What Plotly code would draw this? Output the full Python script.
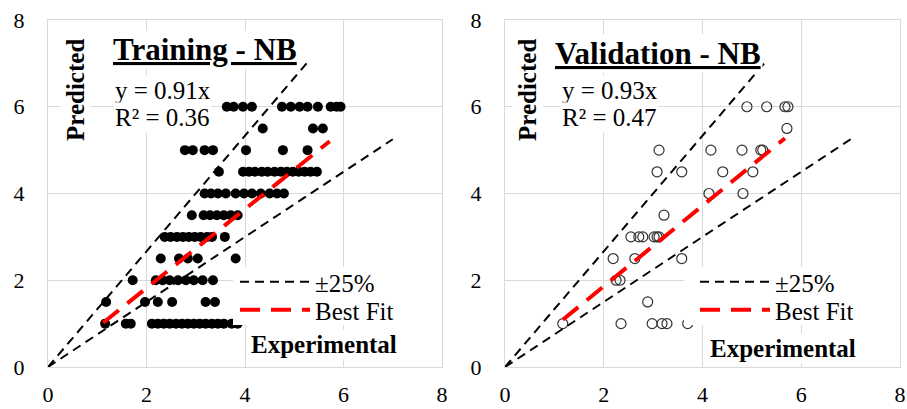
import plotly.graph_objects as go
from plotly.subplots import make_subplots

# ---------------- data ----------------
train_x = [
    1.16, 1.58, 1.68, 2.11, 2.23, 2.35, 2.47, 2.60, 2.72, 2.84, 2.96, 3.08, 3.20, 3.33, 3.45, 3.57, 3.73, 3.85,
    1.18, 1.97, 2.23, 2.52, 3.20, 3.39,
    1.72, 2.19, 2.33, 2.47, 2.64, 2.80, 2.96, 3.14, 3.35,
    2.29, 2.66, 2.84, 3.04, 3.81,
    2.37, 2.49, 2.62, 2.74, 2.86, 2.98, 3.10, 3.23, 3.33, 3.59,
    2.92, 3.16, 3.29, 3.43, 3.57, 3.71, 3.85,
    3.18, 3.31, 3.45, 3.61, 3.81, 3.98, 4.14, 4.32, 4.50, 4.65, 4.79,
    3.47, 3.96, 4.08, 4.20, 4.34, 4.46, 4.60, 4.73, 4.85, 4.97, 5.09, 5.21, 5.33, 5.46,
    2.78, 2.94, 3.18, 3.35, 4.02, 4.77, 5.27,
    4.36, 5.38, 5.58,
    3.63, 3.77, 3.96, 4.14, 4.75, 4.93, 5.11, 5.27, 5.48, 5.74, 5.86, 5.94,
]
train_y = [
    1, 1, 1, 1, 1, 1, 1, 1, 1, 1, 1, 1, 1, 1, 1, 1, 1, 1,
    1.5, 1.5, 1.5, 1.5, 1.5, 1.5,
    2, 2, 2, 2, 2, 2, 2, 2, 2,
    2.5, 2.5, 2.5, 2.5, 2.5,
    3, 3, 3, 3, 3, 3, 3, 3, 3, 3,
    3.5, 3.5, 3.5, 3.5, 3.5, 3.5, 3.5,
    4, 4, 4, 4, 4, 4, 4, 4, 4, 4, 4,
    4.5, 4.5, 4.5, 4.5, 4.5, 4.5, 4.5, 4.5, 4.5, 4.5, 4.5, 4.5, 4.5, 4.5,
    5, 5, 5, 5, 5, 5, 5,
    5.5, 5.5, 5.5,
    6, 6, 6, 6, 6, 6, 6, 6, 6, 6, 6, 6,
]

val_x = [
    1.17, 2.35, 2.98, 3.18, 3.28, 3.70,
    2.89,
    2.25, 2.33,
    2.19, 2.63, 3.58,
    2.55, 2.71, 2.79, 3.02, 3.08, 3.12,
    3.22,
    4.13, 4.82,
    3.08, 3.58, 4.41, 5.02,
    3.12, 4.17, 4.80, 5.18, 5.22,
    5.71,
    4.90, 5.30, 5.67, 5.73,
]
val_y = [
    1, 1, 1, 1, 1, 1,
    1.5,
    2, 2,
    2.5, 2.5, 2.5,
    3, 3, 3, 3, 3, 3,
    3.5,
    4, 4,
    4.5, 4.5, 4.5, 4.5,
    5, 5, 5, 5, 5,
    5.5,
    6, 6, 6, 6,
]

# +/-25% guide lines (upper: y = x/0.75, lower: y = 0.75x)
band_x = [0, 5.25, None, 0, 7.0]
band_y = [0, 7.0, None, 0, 5.25]

train_slope = 0.91
val_slope = 0.93
train_fit_x = [1.12, 5.72]
val_fit_x = [1.17, 5.67]

axis_ticks = [0, 2, 4, 6, 8]

# ---------------- layout helpers ----------------
W, H = 907, 409
ML, MR, MT, MB = 48, 7, 20, 42
PW, PH = W - ML - MR, H - MT - MB


def px(xp):
    return (xp - ML) / PW


def py(yp):
    return (H - MB - yp) / PH


SERIF = "Liberation Serif"

fig = make_subplots(rows=1, cols=2, horizontal_spacing=0.0)
fig.update_layout(
    xaxis=dict(domain=[0, px(442)]),
    xaxis2=dict(domain=[px(505), 1]),
)

panels = [
    dict(col=1, x=train_x, y=train_y, slope=train_slope, fitx=train_fit_x,
         legs=("legend", "legend3"), filled=True),
    dict(col=2, x=val_x, y=val_y, slope=val_slope, fitx=val_fit_x,
         legs=("legend2", "legend4"), filled=False),
]

for p in panels:
    if p["filled"]:
        marker = dict(symbol="circle", size=10, color="black")
    else:
        marker = dict(symbol="circle-open", size=10, color="#333333",
                      line=dict(width=1.2, color="#333333"))
    fig.add_trace(go.Scatter(x=p["x"], y=p["y"], mode="markers", marker=marker,
                             showlegend=False), row=1, col=p["col"])
    fig.add_trace(go.Scatter(x=band_x, y=band_y, mode="lines", name="±25%",
                             line=dict(color="black", width=2, dash="9px,6px"),
                             legend=p["legs"][0], connectgaps=False), row=1, col=p["col"])
    fx = p["fitx"]
    fig.add_trace(go.Scatter(x=fx, y=[p["slope"] * v for v in fx], mode="lines",
                             name="Best Fit",
                             line=dict(color="red", width=4, dash="20px,11px"),
                             legend=p["legs"][1]), row=1, col=p["col"])

ax_common = dict(range=[0, 8], tickvals=axis_ticks, showgrid=True, gridcolor="#d9d9d9",
                 gridwidth=1, zeroline=False, showline=True, mirror=True,
                 linecolor="#d9d9d9", linewidth=1, ticks="", automargin=False,
                 tickfont=dict(family=SERIF, size=22, color="black"))
for i in (1, 2):
    fig.update_xaxes(**ax_common, ticklabelstandoff=8, row=1, col=i)
    fig.update_yaxes(**ax_common, ticklabelstandoff=18, row=1, col=i)

# legends: transparent, one entry each; a white panel behind hides data/grid
leg_common = dict(bgcolor="rgba(0,0,0,0)", borderwidth=0,
                  font=dict(family=SERIF, size=25, color="black"),
                  xanchor="left", yanchor="top", itemwidth=70, tracegroupgap=0,
                  itemclick=False)
fig.update_layout(
    legend=dict(**leg_common, x=px(235), y=py(259)),
    legend3=dict(**leg_common, x=px(235), y=py(287)),
    legend2=dict(**leg_common, x=px(695), y=py(259)),
    legend4=dict(**leg_common, x=px(695), y=py(287)),
)

shapes = [
    dict(type="rect", xref="paper", yref="paper", x0=px(233), x1=px(441.5),
         y0=py(325), y1=py(267), fillcolor="white", line=dict(width=0), layer="above"),
    dict(type="rect", xref="paper", yref="paper", x0=px(684), x1=px(899.5),
         y0=py(325), y1=py(267), fillcolor="white", line=dict(width=0), layer="above"),
]

ann = []
texts = [
    # (text, x_px, y_px, size, xanchor, angle)
    ("<b><u>Training - NB</u></b>", 205, 50, 31, "center", 0),
    ("<b><u>Validation - NB</u></b>", 658, 53, 31, "center", 0),
    ("<b>Predicted</b>", 75, 90, 25, "center", -90),
    ("<b>Predicted</b>", 527, 90, 25, "center", -90),
    ("y = 0.91x", 113, 90, 25, "left", 0),
    ("R² = 0.36", 113, 117, 25, "left", 0),
    ("y = 0.93x", 560, 90, 25, "left", 0),
    ("R² = 0.47", 560, 117, 25, "left", 0),
    ("<b>Experimental</b>", 324, 344, 25, "center", 0),
    ("<b>Experimental</b>", 783, 348, 25, "center", 0),
]
for t, xp, yp, sz, xa, ang in texts:
    ann.append(dict(text=t, x=px(xp), y=py(yp), xref="paper", yref="paper",
                    xanchor=xa, yanchor="middle", showarrow=False, textangle=ang,
                    bgcolor="white", borderpad=1,
                    font=dict(family=SERIF, size=sz, color="black")))

fig.update_layout(
    width=W, height=H,
    margin=dict(l=ML, r=MR, t=MT, b=MB, autoexpand=False),
    font=dict(family=SERIF, color="black"),
    paper_bgcolor="white", plot_bgcolor="white",
    annotations=ann, shapes=shapes,
)

fig.write_html("out.html")
